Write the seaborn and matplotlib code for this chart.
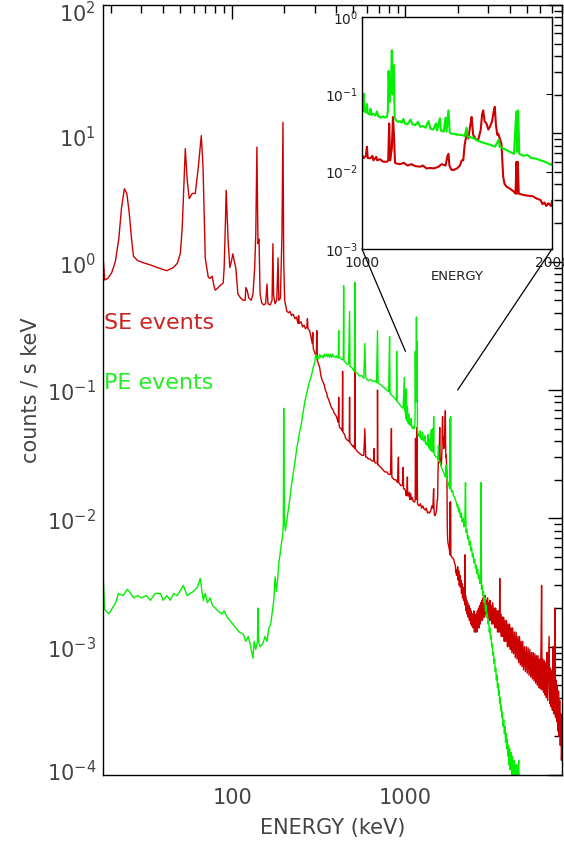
import numpy as np
import pandas as pd
import matplotlib
matplotlib.use("Agg")
import matplotlib.pyplot as plt
import matplotlib.transforms as mtransforms
import seaborn as sns
from matplotlib.patches import ConnectionPatch
from matplotlib.ticker import LogLocator, NullFormatter

# ---------------- data (energy keV, counts / s keV) ----------------
se_low = [
    (18.1, 1.0), (18.4, 0.72), (19.2, 0.74), (20.2, 0.82), (21.2, 1.0), (22.2, 1.5),
    (23.0, 2.6), (23.9, 3.7), (24.7, 3.4), (25.5, 2.4), (26.3, 1.5), (27.0, 1.1),
    (28.5, 1.02), (30.8, 0.98), (34, 0.94), (37, 0.9), (42, 0.85), (45.8, 0.9),
    (48.3, 0.97), (50.3, 1.16), (51.5, 1.8), (52.3, 3.0), (53.7, 7.6), (55.1, 4.3),
    (56.6, 3.1), (58.9, 3.4), (61.3, 3.4), (63.8, 5.4), (66.4, 9.6), (68.0, 5.4),
    (70.0, 1.07), (72.8, 0.76), (74.5, 0.74), (76.7, 0.77), (78.5, 0.65), (80.0, 0.6),
    (82.5, 0.62), (85.0, 0.65), (88.8, 0.68), (90.0, 0.9), (91.5, 2.0), (92.4, 3.6),
    (93.5, 2.4), (95, 1.4), (97, 0.9), (99, 1.0), (101, 1.15), (103, 1.0), (105, 0.9),
    (108, 0.56), (112, 0.52), (116, 0.5), (119, 0.5), (120, 0.63), (122, 0.6),
    (125, 0.52), (129, 0.5), (132, 0.56), (135, 0.9), (137, 1.66), (139, 7.8),
    (141, 1.38), (143, 1.5), (145, 0.56), (148, 0.48), (152, 0.46), (156, 0.47),
    (159, 0.67), (161, 0.47), (166, 0.46), (170, 0.5), (172, 1.38), (173.5, 0.55),
    (177, 0.47), (181, 0.5), (184, 1.07), (186, 0.5), (190, 0.52), (194, 1.66),
    (196.5, 12.2), (198.5, 1.0), (201, 0.5), (204, 0.45),
]
se_mid = [
    (207, 0.41), (212, 0.40), (216, 0.41), (220, 0.38), (225, 0.39), (230, 0.36),
    (235, 0.37), (240, 0.33), (242, 0.38), (244, 0.33), (250, 0.34), (255, 0.31),
    (260, 0.32), (265, 0.30), (270, 0.31), (272, 0.36), (274, 0.30), (280, 0.29),
    (285, 0.26), (290, 0.23), (292, 0.28), (294, 0.21), (298, 0.20), (302, 0.19),
    (306, 0.18), (308, 0.29), (310, 0.17), (315, 0.16), (320, 0.15), (325, 0.13),
    (330, 0.12), (335, 0.115), (340, 0.11), (345, 0.10), (351, 0.095), (355, 0.088),
    (360, 0.085), (365, 0.080), (370, 0.076), (376, 0.072), (382, 0.070), (388, 0.066),
    (395, 0.064), (400, 0.062), (406, 0.058), (410, 0.056), (412, 0.088), (414, 0.054),
    (417, 0.051), (425, 0.05), (432, 0.048), (434, 0.14), (436, 0.047), (440, 0.046),
    (446, 0.045), (452, 0.042), (460, 0.041), (468, 0.040), (474, 0.040), (476, 0.088),
    (478, 0.039), (485, 0.038), (492, 0.037), (500, 0.036), (505, 0.037), (509, 0.035),
    (511, 0.20), (513, 0.035), (520, 0.034), (530, 0.033), (544, 0.032), (560, 0.031),
    (575, 0.031), (583, 0.05), (590, 0.030), (600, 0.030), (610, 0.029), (625, 0.029),
    (640, 0.028), (655, 0.028), (660, 0.035), (662, 0.028), (670, 0.027), (681, 0.027),
    (688, 0.027), (690, 0.10), (693, 0.026), (700, 0.026), (720, 0.025), (740, 0.024),
    (760, 0.023), (780, 0.023), (800, 0.022), (820, 0.022), (830, 0.05), (835, 0.021),
    (860, 0.020), (880, 0.020), (900, 0.019), (911, 0.03), (915, 0.019), (940, 0.018),
    (960, 0.018), (970, 0.025), (975, 0.017), (990, 0.017),
]
se_inset = [
    (1000, 0.0163), (1010, 0.015), (1020, 0.016), (1026, 0.021), (1030, 0.015),
    (1044, 0.0149), (1055, 0.016), (1060, 0.014), (1075, 0.0155), (1080, 0.014),
    (1095, 0.0145), (1110, 0.0135), (1131, 0.0134), (1138, 0.014), (1143, 0.042),
    (1148, 0.014), (1157, 0.02), (1163, 0.051), (1168, 0.03), (1174, 0.013),
    (1180, 0.0128), (1200, 0.0125), (1220, 0.013), (1240, 0.012), (1260, 0.0125),
    (1280, 0.0118), (1306, 0.0116), (1320, 0.012), (1340, 0.011), (1360, 0.0112),
    (1376, 0.011), (1400, 0.0115), (1420, 0.0125), (1440, 0.012), (1450, 0.016),
    (1455, 0.017), (1460, 0.012), (1470, 0.0106), (1481, 0.0105), (1500, 0.011),
    (1515, 0.012), (1525, 0.014), (1533, 0.014), (1540, 0.022), (1551, 0.031),
    (1560, 0.027), (1570, 0.04), (1577, 0.051), (1585, 0.03), (1600, 0.026),
    (1612, 0.026), (1625, 0.035), (1632, 0.055), (1638, 0.062), (1645, 0.045),
    (1655, 0.042), (1665, 0.035), (1673, 0.038), (1685, 0.045), (1693, 0.06),
    (1699, 0.069), (1705, 0.04), (1712, 0.03), (1717, 0.031), (1725, 0.027),
    (1734, 0.023), (1740, 0.012), (1743, 0.0086), (1750, 0.007), (1760, 0.0064),
    (1780, 0.006), (1800, 0.0055), (1808, 0.0052), (1813, 0.0134), (1816, 0.0052),
    (1820, 0.0134), (1825, 0.0052), (1850, 0.005), (1870, 0.0049), (1900, 0.0048),
    (1918, 0.0045), (1940, 0.0043), (1950, 0.0038), (1960, 0.004), (1970, 0.0036),
    (1980, 0.0039), (1995, 0.0036),
]
se_high = [
    (2000, 0.0042), (2015, 0.0033), (2030, 0.0039), (2045, 0.0030), (2060, 0.0036),
    (2075, 0.0029), (2090, 0.0033), (2105, 0.0026), (2120, 0.0031), (2135, 0.0024),
    (2150, 0.0029), (2165, 0.0023), (2180, 0.0027), (2195, 0.0022), (2204, 0.0052),
    (2212, 0.0021), (2225, 0.0025), (2240, 0.0019), (2255, 0.0023), (2270, 0.0018),
    (2285, 0.0022), (2300, 0.0017), (2320, 0.0021), (2340, 0.0016), (2360, 0.0020),
    (2380, 0.0015), (2400, 0.0019), (2420, 0.00145), (2440, 0.0018), (2460, 0.0014),
    (2480, 0.0019), (2500, 0.0013), (2520, 0.0017), (2540, 0.0013), (2560, 0.0018),
    (2580, 0.0013), (2600, 0.0019), (2620, 0.0014), (2640, 0.0020), (2660, 0.0014),
    (2680, 0.0021), (2700, 0.0015), (2720, 0.0022), (2740, 0.0016), (2760, 0.0023),
    (2780, 0.0016), (2800, 0.0024), (2820, 0.0017), (2840, 0.0022), (2860, 0.0017),
    (2880, 0.0025), (2900, 0.0018), (2925, 0.0023), (2950, 0.0017), (2975, 0.0024),
    (3000, 0.0017), (3025, 0.0022), (3050, 0.0016), (3075, 0.0023), (3100, 0.0016),
    (3130, 0.0021), (3160, 0.0015), (3190, 0.0022), (3220, 0.0015), (3250, 0.0020),
    (3280, 0.0014), (3310, 0.0020), (3340, 0.0014), (3370, 0.0019), (3400, 0.0013),
    (3430, 0.0019), (3460, 0.0013), (3490, 0.0018), (3500, 0.0034), (3515, 0.0013),
    (3545, 0.0018), (3575, 0.0012), (3610, 0.0017), (3645, 0.0012), (3680, 0.0017),
    (3715, 0.0011), (3750, 0.0016), (3790, 0.0011), (3830, 0.0016), (3870, 0.0010),
    (3910, 0.0015), (3950, 0.0010), (3990, 0.0015), (4030, 0.00095), (4070, 0.0014),
    (4110, 0.0009), (4150, 0.0014), (4200, 0.00088), (4250, 0.0013), (4300, 0.00082),
    (4350, 0.0013), (4400, 0.0008), (4450, 0.0012), (4500, 0.00075), (4550, 0.0012),
    (4600, 0.00072), (4650, 0.0011), (4700, 0.0007), (4750, 0.0011), (4800, 0.00066),
    (4860, 0.0010), (4920, 0.00064), (4980, 0.0010), (5040, 0.00062), (5100, 0.00098),
    (5160, 0.0006), (5220, 0.00095), (5280, 0.00058), (5340, 0.0009), (5400, 0.00056),
    (5460, 0.0009), (5520, 0.00054), (5580, 0.00088), (5640, 0.00052), (5700, 0.00085),
    (5760, 0.0005), (5820, 0.00085), (5880, 0.00048), (5940, 0.0008), (6000, 0.00047),
    (6060, 0.0011), (6100, 0.003), (6140, 0.00046), (6200, 0.0008), (6260, 0.00044),
    (6320, 0.00078), (6380, 0.00042), (6440, 0.00075), (6500, 0.0004), (6560, 0.0009),
    (6620, 0.00038), (6680, 0.0007), (6740, 0.0012), (6800, 0.00036), (6860, 0.00068),
    (6920, 0.00034), (6980, 0.00065), (7040, 0.00032), (7100, 0.001), (7160, 0.0003),
    (7220, 0.0006), (7300, 0.002), (7340, 0.00028), (7400, 0.00055), (7460, 0.00026),
    (7520, 0.0005), (7580, 0.00022), (7640, 0.00045), (7700, 0.0002), (7760, 0.00038),
    (7820, 0.00017), (7880, 0.0003), (7940, 0.00013), (8000, 0.0002),
]

pe_low = [
    (18.1, 0.0032), (18.4, 0.00195), (19.4, 0.0018), (20.4, 0.0020), (21.3, 0.0022),
    (22.1, 0.0026), (23.5, 0.0025), (24.9, 0.0028), (26, 0.0026), (27.0, 0.0024),
    (28.5, 0.0025), (30, 0.0024), (32, 0.0025), (33.8, 0.0023), (36, 0.0026),
    (38.6, 0.0026), (40, 0.0023), (42, 0.0025), (44, 0.0023), (46, 0.0026),
    (48, 0.0025), (50, 0.0027), (52.3, 0.0030), (55, 0.0025), (57.3, 0.0026),
    (60, 0.0027), (63, 0.0029), (65.5, 0.0034), (67, 0.0027), (68.2, 0.0023),
    (70, 0.0026), (72, 0.0022), (74.7, 0.0024), (77, 0.0021), (79.9, 0.0020),
    (83, 0.0019), (87, 0.0018), (90, 0.0019), (93.6, 0.0017), (97, 0.0016),
    (101, 0.0015), (105, 0.0014), (110, 0.0013), (116, 0.00125), (120, 0.0011),
    (124, 0.0012), (127, 0.00105), (130, 0.0009), (132, 0.00081), (134, 0.0011),
    (137, 0.00095), (140, 0.0011), (141, 0.0020), (142, 0.0011), (145, 0.0010),
    (150, 0.00105), (155, 0.0012), (159, 0.0011), (163, 0.0014), (167, 0.0015),
    (170, 0.0018), (174, 0.0023), (177, 0.0035), (180, 0.0027), (183, 0.0033),
    (186, 0.0045), (189, 0.0052), (192, 0.0062), (196, 0.0075), (197.5, 0.009),
    (198.5, 0.072), (200, 0.0095), (203, 0.0080), (205, 0.0088),
]
pe_mid = [
    (210, 0.011), (215, 0.014), (220, 0.018), (225, 0.022), (230, 0.027), (236, 0.035),
    (240, 0.04), (245, 0.047), (250, 0.053), (256, 0.065), (263, 0.082), (270, 0.095),
    (276, 0.11), (282, 0.12), (288, 0.133), (294, 0.15), (300, 0.165), (304, 0.19),
    (308, 0.175), (312, 0.18), (316, 0.175), (320, 0.19), (325, 0.18), (330, 0.185),
    (335, 0.178), (340, 0.19), (345, 0.182), (350, 0.19), (355, 0.182), (360, 0.19),
    (365, 0.18), (370, 0.19), (375, 0.18), (380, 0.19), (385, 0.182), (395, 0.18),
    (400, 0.185), (405, 0.178), (410, 0.18), (412, 0.29), (414, 0.178), (420, 0.178),
    (430, 0.172), (438, 0.175), (440, 0.65), (442, 0.168), (450, 0.165), (460, 0.158),
    (470, 0.16), (476, 0.41), (479, 0.152), (490, 0.15), (500, 0.143), (507, 0.14),
    (511, 0.69), (514, 0.138), (530, 0.135), (545, 0.128), (560, 0.13), (575, 0.123),
    (583, 0.23), (590, 0.125), (610, 0.118), (630, 0.121), (650, 0.116), (665, 0.118),
    (681, 0.114), (690, 0.29), (695, 0.113), (720, 0.11), (750, 0.105), (778, 0.1),
    (800, 0.097), (810, 0.26), (815, 0.094), (840, 0.09), (870, 0.086), (887, 0.083),
    (890, 0.2), (895, 0.081), (920, 0.078), (950, 0.074), (970, 0.072), (985, 0.125),
    (990, 0.07),
]
pe_inset = [
    (1000, 0.066), (1005, 0.06), (1009, 0.102), (1012, 0.062), (1020, 0.058),
    (1026, 0.075), (1030, 0.057), (1040, 0.055), (1045, 0.065), (1050, 0.054),
    (1060, 0.056), (1070, 0.053), (1079, 0.06), (1085, 0.052), (1100, 0.05),
    (1110, 0.052), (1120, 0.05), (1131, 0.051), (1136, 0.06), (1140, 0.2),
    (1145, 0.08), (1152, 0.12), (1157, 0.37), (1162, 0.1), (1167, 0.24), (1172, 0.05),
    (1180, 0.046), (1190, 0.044), (1200, 0.045), (1210, 0.043), (1218, 0.048),
    (1225, 0.042), (1240, 0.041), (1255, 0.047), (1265, 0.041), (1280, 0.04),
    (1295, 0.044), (1306, 0.038), (1320, 0.039), (1335, 0.037), (1350, 0.045),
    (1360, 0.036), (1375, 0.035), (1390, 0.042), (1395, 0.034), (1410, 0.049),
    (1415, 0.034), (1430, 0.033), (1440, 0.05), (1445, 0.033), (1455, 0.062),
    (1462, 0.032), (1470, 0.031), (1481, 0.031), (1500, 0.03), (1520, 0.03),
    (1540, 0.029), (1551, 0.037), (1556, 0.028), (1568, 0.028), (1590, 0.027),
    (1610, 0.025), (1630, 0.024), (1656, 0.023), (1680, 0.022), (1700, 0.021),
    (1720, 0.026), (1725, 0.021), (1743, 0.02), (1760, 0.019), (1780, 0.018),
    (1800, 0.017), (1812, 0.06), (1816, 0.018), (1822, 0.062), (1828, 0.017),
    (1850, 0.016), (1870, 0.0165), (1890, 0.015), (1918, 0.0147), (1940, 0.014),
    (1960, 0.0135), (1980, 0.0128), (1995, 0.0122),
]
pe_high = [
    (2000, 0.0128), (2025, 0.0112), (2050, 0.0120), (2075, 0.0102), (2100, 0.0110),
    (2125, 0.0094), (2150, 0.0100), (2175, 0.0086), (2200, 0.0090), (2220, 0.019),
    (2235, 0.0078), (2260, 0.0082), (2285, 0.0069), (2310, 0.0073), (2335, 0.0062),
    (2360, 0.0066), (2385, 0.0056), (2410, 0.0059), (2435, 0.0050), (2460, 0.0053),
    (2485, 0.0045), (2510, 0.0048), (2535, 0.0041), (2560, 0.0043), (2585, 0.0037),
    (2610, 0.0040), (2635, 0.0034), (2660, 0.0036), (2685, 0.0031), (2710, 0.0034),
    (2730, 0.019), (2745, 0.0028), (2770, 0.0030), (2795, 0.0025), (2820, 0.0027),
    (2845, 0.0022), (2870, 0.0024), (2895, 0.0019), (2920, 0.0021), (2945, 0.0017),
    (2970, 0.0018), (2995, 0.0015), (3020, 0.0016), (3045, 0.0013), (3070, 0.0014),
    (3095, 0.00115), (3120, 0.00122), (3145, 0.001), (3170, 0.00105), (3195, 0.00086),
    (3220, 0.0009), (3245, 0.00074), (3270, 0.0008), (3295, 0.00064), (3320, 0.00068),
    (3345, 0.00055), (3370, 0.0006), (3395, 0.00048), (3420, 0.00052), (3445, 0.00042),
    (3470, 0.00046), (3495, 0.00036), (3520, 0.0004), (3545, 0.00032), (3570, 0.00035),
    (3600, 0.00028), (3630, 0.00031), (3660, 0.00024), (3690, 0.00027), (3720, 0.00021),
    (3750, 0.00024), (3780, 0.00018), (3810, 0.00021), (3840, 0.00016), (3870, 0.00019),
    (3900, 0.00014), (3930, 0.00017), (3960, 0.00012), (3990, 0.00016), (4020, 0.00011),
    (4060, 0.00015), (4100, 0.0001), (4140, 0.00014), (4180, 0.000092), (4220, 0.00013),
    (4260, 0.000088), (4300, 0.00012), (4340, 0.000085), (4380, 0.00012), (4420, 0.00008),
    (4460, 0.00011), (4500, 0.00013), (4540, 0.00007), (4580, 0.0001), (4620, 0.00006),
    (4700, 0.00005),
]

xtick_values = [100, 1000]
xtick_labels = ["100", "1000"]
ytick_values = [1e-4, 1e-3, 1e-2, 1e-1, 1e0, 1e1, 1e2]
inset_xticks = [1000, 2000]
inset_xlabels = ["1000", "2000"]

se_df = pd.DataFrame(se_low + se_mid + se_inset + se_high, columns=["energy", "counts"])
pe_df = pd.DataFrame(pe_low + pe_mid + pe_inset + pe_high, columns=["energy", "counts"])

RED = "#cc0000"
GREEN = "#00f000"
TXT = "#444444"

sns.set_style("white")
plt.rcParams["font.family"] = ["DejaVu Sans"]

fig = plt.figure(figsize=(5.64, 8.43), dpi=100)
ax = fig.add_axes([103 / 564, 1 - 775 / 843, 459 / 564, 770 / 843])

sns.lineplot(data=se_df, x="energy", y="counts", ax=ax, color=RED, lw=1.0,
             estimator=None, sort=False)
sns.lineplot(data=pe_df, x="energy", y="counts", ax=ax, color=GREEN, lw=1.0,
             estimator=None, sort=False)
ax.set_xscale("log")
ax.set_yscale("log")
ax.set_xlim(18, 8000)
ax.set_ylim(1e-4, 1e2)

ax.set_xticks(xtick_values)
ax.set_xticklabels(xtick_labels)
ax.xaxis.set_minor_locator(LogLocator(base=10, subs=np.arange(2, 10)))
ax.xaxis.set_minor_formatter(NullFormatter())
ax.set_yticks(ytick_values)
ax.yaxis.set_minor_locator(LogLocator(base=10, subs=np.arange(2, 10), numticks=20))
ax.yaxis.set_minor_formatter(NullFormatter())
ax.tick_params(which="both", direction="in", top=True, right=True, colors="black",
               labelcolor=TXT, labelsize=15)
ax.tick_params(which="major", length=10, width=1)
ax.tick_params(which="minor", length=6, width=1)
ax.tick_params(axis="x", pad=9)
ax.tick_params(axis="y", pad=5)
for s in ax.spines.values():
    s.set_color("black")
    s.set_linewidth(1.0)

# small vertical nudges of the y tick labels (pixels, + is up), as in the reference
label_shift_px = [4, -1, -1, -1, -2, -3, -7]
for lab, dy in zip(ax.get_yticklabels(), label_shift_px):
    off = mtransforms.ScaledTranslation(0, dy / 100, fig.dpi_scale_trans)
    lab.set_transform(lab.get_transform() + off)

ax.set_xlabel("ENERGY (keV)", fontsize=15, color=TXT)
ax.set_ylabel("counts / s keV", fontsize=15, color=TXT)
ax.xaxis.set_label_coords(0.5, -0.056)
ax.yaxis.set_label_coords(-0.137, 0.5)

ax.text(0.003, 0.587, "SE events", transform=ax.transAxes, color="#cc2222",
        fontsize=16, va="center", ha="left")
ax.text(0.003, 0.509, "PE events", transform=ax.transAxes, color="#22ee22",
        fontsize=16, va="center", ha="left")

# ---------------- inset ----------------
axins = fig.add_axes([362 / 564, 1 - 249 / 843, 190 / 564, 232 / 843], zorder=5)
axins.set_facecolor("white")
sns.lineplot(data=se_df, x="energy", y="counts", ax=axins, color=RED, lw=1.5,
             estimator=None, sort=False)
sns.lineplot(data=pe_df, x="energy", y="counts", ax=axins, color=GREEN, lw=1.5,
             estimator=None, sort=False)
axins.set_yscale("log")
axins.set_xlim(1000, 2000)
axins.set_ylim(1e-3, 1)
axins.set_xticks(inset_xticks)
axins.set_xticklabels(inset_xlabels)
axins.yaxis.set_minor_formatter(NullFormatter())
axins.tick_params(which="both", direction="in", top=True, right=True,
                  labelsize=10, labelcolor="#222222", colors="black")
axins.tick_params(which="major", length=4)
axins.tick_params(which="minor", length=0)
axins.tick_params(axis="x", pad=5)
axins.tick_params(axis="y", pad=3)
for s in axins.spines.values():
    s.set_color("black")
    s.set_linewidth(1.0)
axins.set_xlabel("ENERGY", fontsize=9.5, color="#222222")
axins.set_ylabel("")
axins.xaxis.set_label_coords(0.5, -0.09)

for (xa, ya), (xb, yb) in [((0, 0), (1000, 0.2)), ((1, 0), (2000, 0.1))]:
    con = ConnectionPatch(xyA=(xa, ya), coordsA=axins.transAxes,
                          xyB=(xb, yb), coordsB=ax.transData,
                          color="black", lw=0.9)
    con.set_zorder(6)
    fig.add_artist(con)

fig.savefig("out.png", dpi=100)
